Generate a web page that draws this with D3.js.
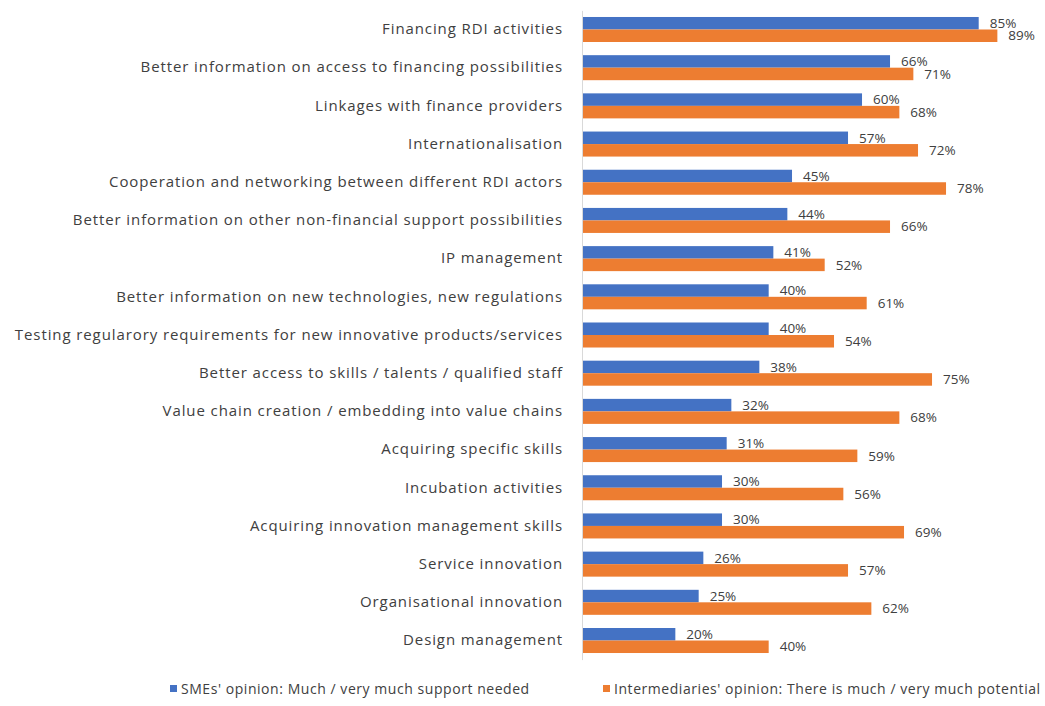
<!DOCTYPE html>
<html>
<head>
<meta charset="utf-8">
<script src="https://cdn.jsdelivr.net/npm/d3@7"></script>
<style>
  html, body { margin: 0; padding: 0; background: #fff; }
  svg { display: block; font-family: "Open Sans", sans-serif; }
</style>
</head>
<body>
<svg id="chart" width="1045" height="706"></svg>
<script>
// Support areas, top to bottom
const categories = [
  "Financing RDI activities",
  "Better information on access to financing possibilities",
  "Linkages with finance providers",
  "Internationalisation",
  "Cooperation and networking between different RDI actors",
  "Better information on other non-financial support possibilities",
  "IP management",
  "Better information on new technologies, new regulations",
  "Testing regularory requirements for new innovative products/services",
  "Better access to skills / talents / qualified staff",
  "Value chain creation / embedding into value chains",
  "Acquiring specific skills",
  "Incubation activities",
  "Acquiring innovation management skills",
  "Service innovation",
  "Organisational innovation",
  "Design management"
];

// Share of respondents (%)
const smeValues = [85, 66, 60, 57, 45, 44, 41, 40, 40, 38, 32, 31, 30, 30, 26, 25, 20];
const intermediaryValues = [89, 71, 68, 72, 78, 66, 52, 61, 54, 75, 68, 59, 56, 69, 57, 62, 40];

const seriesNames = [
  "SMEs' opinion: Much / very much support needed",
  "Intermediaries' opinion: There is much / very much potential"
];
const seriesColors = ["#4472C4", "#ED7D31"];
const seriesValues = [smeValues, intermediaryValues];

const svg = d3.select("#chart");
const textColor = "#404040";

const y = d3.scaleBand()
  .domain(categories)
  .range([10.4, 659.6])
  .paddingInner(0.345)
  .paddingOuter(0.1725);

const sub = d3.scaleBand()
  .domain([0, 1])
  .range([0, y.bandwidth()]);

const x = d3.scaleLinear()
  .domain([0, 100])
  .range([582, 582 + 466.7]);

// bars
const groups = svg.append("g")
  .selectAll("g")
  .data(categories)
  .join("g")
  .attr("transform", d => `translate(0,${y(d)})`);

groups.each(function(cat, i) {
  const g = d3.select(this);
  seriesValues.forEach((vals, s) => {
    g.append("rect")
      .attr("x", x(0))
      .attr("y", sub(s))
      .attr("width", x(vals[i]) - x(0))
      .attr("height", sub.bandwidth())
      .attr("fill", seriesColors[s]);
    g.append("text")
      .attr("x", x(vals[i]) + 11)
      .attr("y", sub(s) + sub.bandwidth() / 2)
      .attr("dy", "0.35em")
      .attr("font-size", 13.5)
      .attr("fill", textColor)
      .text(vals[i] + "%");
  });
});

// category axis
const axis = svg.append("g")
  .attr("transform", `translate(${x(0)},0)`)
  .call(d3.axisLeft(y).tickSize(0).tickPadding(19));
axis.select(".domain").attr("stroke", "#d9d9d9");
axis.selectAll("text")
  .attr("font-family", "Open Sans, sans-serif")
  .attr("font-size", 15)
  .attr("letter-spacing", "0.9px")
  .attr("fill", textColor);

// legend
const legendItems = [
  { x: 170, name: seriesNames[0], color: seriesColors[0] },
  { x: 603, name: seriesNames[1], color: seriesColors[1] }
];
const legend = svg.append("g").selectAll("g")
  .data(legendItems)
  .join("g")
  .attr("transform", d => `translate(${d.x},689)`);
legend.append("rect")
  .attr("x", 0).attr("y", -4)
  .attr("width", 7).attr("height", 7)
  .attr("fill", d => d.color);
legend.append("text")
  .attr("x", 11)
  .attr("dy", "0.35em")
  .attr("font-size", 14)
  .attr("letter-spacing", "0.55px")
  .attr("fill", textColor)
  .text(d => d.name);
</script>
</body>
</html>
